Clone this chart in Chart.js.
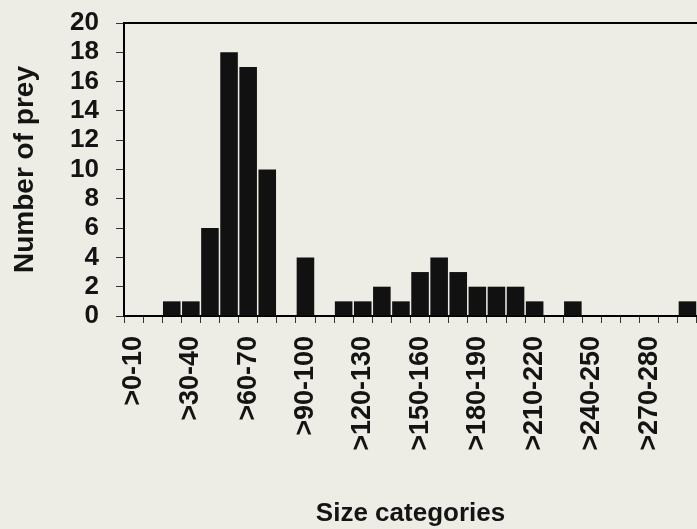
<!DOCTYPE html>
<html>
<head>
<meta charset="utf-8">
<script src="https://cdn.jsdelivr.net/npm/chart.js@4.4.1/dist/chart.umd.min.js"></script>
<style>
    body { margin: 0; background: #ededE5; }
    #chart { display: block; background: #ededE5; }
</style>
</head>
<body>
<canvas id="chart" width="697" height="529"></canvas>
<script>
// Prey size distribution (counts per 10-unit size class)
const sizeCategories = [
    '>0-10', '>10-20', '>20-30', '>30-40', '>40-50', '>50-60',
    '>60-70', '>70-80', '>80-90', '>90-100', '>100-110', '>110-120',
    '>120-130', '>130-140', '>140-150', '>150-160', '>160-170', '>170-180',
    '>180-190', '>190-200', '>200-210', '>210-220', '>220-230', '>230-240',
    '>240-250', '>250-260', '>260-270', '>270-280', '>280-290', '>290-300'
];
const preyCounts = [
    0, 0, 1, 1, 6, 18,
    17, 10, 0, 4, 0, 1,
    1, 2, 1, 3, 4, 3,
    2, 2, 2, 1, 0, 1,
    0, 0, 0, 0, 0, 1
];
const yTicks = [0, 2, 4, 6, 8, 10, 12, 14, 16, 18, 20];

const ink = '#141414';
const fontFamily = "'Liberation Sans', Arial, sans-serif";

// keep the plot area flush with the canvas edge
function noSidePadding(scale) {
    scale.paddingLeft = 0;
    scale.paddingRight = 0;
}

const ctx = document.getElementById('chart').getContext('2d');
new Chart(ctx, {
    type: 'bar',
    data: {
        labels: sizeCategories,
        datasets: [{
            label: 'Number of prey',
            data: preyCounts,
            backgroundColor: '#111111',
            borderWidth: 0,
            barPercentage: 0.92,
            categoryPercentage: 1.0
        }]
    },
    options: {
        responsive: false,
        animation: false,
        layout: { padding: 0 },
        plugins: {
            legend: { display: false },
            tooltip: { enabled: false }
        },
        scales: {
            x: {
                grid: {
                    drawOnChartArea: false,
                    tickLength: 7,
                    color: '#333'
                },
                border: { display: true, color: '#000', width: 2 },
                ticks: {
                    autoSkip: false,
                    minRotation: 90,
                    maxRotation: 90,
                    padding: 13,
                    color: ink,
                    font: { family: fontFamily, size: 27, weight: 'bold' },
                    // only every third size class is labelled
                    callback: function(value, index) {
                        return index % 3 === 0 ? sizeCategories[index] : '';
                    }
                },
                title: {
                    display: true,
                    text: 'Size categories',
                    color: ink,
                    font: { family: fontFamily, size: 26, weight: 'bold' },
                    padding: { top: 0, bottom: 0 }
                },
                afterFit: function(scale) {
                    scale.height = 213;
                    noSidePadding(scale);
                }
            },
            xTop: {
                type: 'category',
                position: 'top',
                labels: sizeCategories,
                grid: { display: false },
                ticks: { display: false },
                border: { display: true, color: '#000', width: 2 },
                afterFit: function(scale) {
                    scale.height = 23;
                    noSidePadding(scale);
                }
            },
            y: {
                min: 0,
                max: 20,
                afterBuildTicks: function(scale) {
                    scale.ticks = yTicks.map(v => ({ value: v }));
                },
                grid: {
                    drawOnChartArea: false,
                    tickLength: 8,
                    color: '#333'
                },
                border: { display: true, color: '#000', width: 2 },
                ticks: {
                    autoSkip: false,
                    padding: 17,
                    color: ink,
                    font: { family: fontFamily, size: 26, weight: 'bold', lineHeight: 1 }
                },
                title: {
                    display: true,
                    text: 'Number of prey',
                    color: ink,
                    font: { family: fontFamily, size: 28, weight: 'bold' },
                    padding: { top: 8, bottom: 0 }
                },
                afterFit: function(scale) {
                    scale.width = 124;
                    scale.paddingTop = 0;
                }
            }
        }
    }
});
</script>
</body>
</html>
